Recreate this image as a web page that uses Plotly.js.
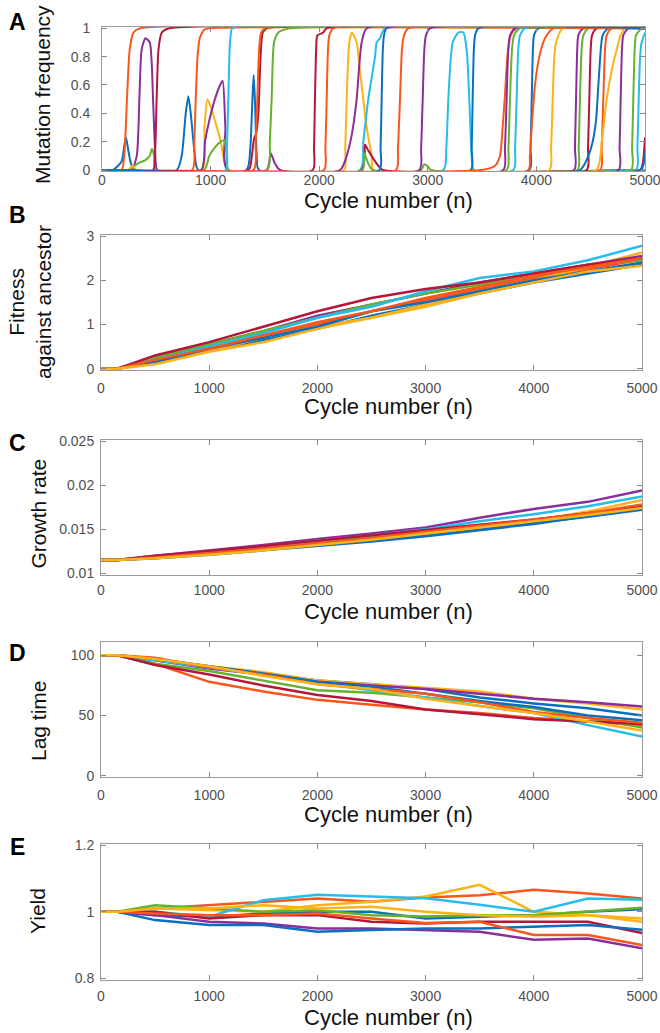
<!DOCTYPE html>
<html><head><meta charset="utf-8">
<script src="https://cdn.plot.ly/plotly-3.0.1.min.js"></script>
<style>html,body{margin:0;padding:0;background:#fff;}#chart{width:660px;height:1033px;}</style>
</head><body><div id="chart"></div>
<script>
// ---------------- DATA ----------------
// Panel A: mutation frequency trajectories (cycle, frequency)
const freqColor = [0,3,4,2,6,0,1,2,3,4,0,6,3,4,6,1,2,5,3,6,4,1,4,3,5,0,1,3,4,5,0,1,2,3,4,6,0,1,2,3,4,5,6,0,1,5,1,0];
const freqX = [
 [0,100,180,205,221,240,265,300,5000],
 [0,270,320,344,365,400,440,458,470,485,495,510,5000],
 [0,250,300,340,400,440,460,480,495,5000],
 [0,240,280,320,5000],
 [0,470,490,503,520,550,620,5000],
 [0,688,734,771,795,817,856,887,5000],
 [0,830,850,863,880,900,940,990,5000],
 [0,918,943,970,1000,1040,1093,1130,1160,5000],
 [0,913,948,988,1040,1087,1111,1136,1157,5000],
 [0,940,988,1040,1093,1123,1150,1167,5000],
 [0,1330,1365,1385,1397,1410,1425,1445,5000],
 [0,1350,1380,1400,1420,1440,1460,1480,1520,5000],
 [0,1516,1553,1590,1639,5000],
 [0,1522,1545,1562,1584,1624,1731,5000],
 [0,1940,1952,1961,1972,1983,2038,2068,5000],
 [0,2044,2057,2069,2081,2093,2130,5000],
 [0,2228,2240,2253,2277,2302,2345,2376,2391,2437,2483,2500,5000],
 [0,2376,2406,2452,2514,2529,2560,2606,5000],
 [0,2192,2253,2300,2345,2370,2391,2440,5000],
 [0,2391,2422,2443,2498,2544,2584,5000],
 [0,2398,2413,2450,2492,5000],
 [0,2707,2725,2744,2762,2781,2820,5000],
 [0,2940,2965,2995,3030,5000],
 [0,2922,2938,2953,2968,2983,3020,5000],
 [0,3143,3170,3189,3229,3281,3327,3358,3382,3404,3425,5000],
 [0,3395,3404,3413,3424,3435,3465,5000],
 [0,3496,3619,3665,3689,3708,3733,3763,3818,5000],
 [0,3695,3710,3726,3741,3757,3803,5000],
 [0,3726,3742,3757,3775,3794,3849,5000],
 [0,3787,3803,3818,3833,3849,3895,5000],
 [0,3935,3946,3957,3968,3978,4018,5000],
 [0,3926,3940,3957,3987,4027,4079,4156,5000],
 [0,4119,4135,4150,4165,4181,4242,5000],
 [0,4346,4355,4365,4376,4386,4432,5000],
 [0,4377,4389,4401,4416,4432,4478,5000],
 [0,4463,4475,4487,4500,4512,4555,5000],
 [0,4401,4478,4518,4549,4579,4610,4662,5000],
 [0,4586,4601,4616,4632,4647,4693,5000],
 [0,4549,4601,4647,4693,4739,4776,4816,5000],
 [0,4757,4766,4776,4788,4800,4846,5000],
 [0,4871,4881,4892,4905,4917,4969,5000],
 [0,4917,4930,4942,4955,4969,5000],
 [0,4954,4980,5000],
 [0,4960,5000],
 [0,180,205,230,255,290,350,5000],
 [0,1139,1150,1163,1175,1185,1200,5000],
 [0,1395,1415,1430,1447,1465,1500,5000],
 [0,2554,2565,2575,2586,2597,2620,5000]
];
const freqY = [
 [0,0,0.06,0.17,0.23,0.15,0.05,0,0],
 [0,0,0.1,0.5,0.85,0.93,0.9,0.75,0.5,0.2,0.05,0,0],
 [0,0,0.03,0.05,0.07,0.1,0.15,0.1,0,0],
 [0,0,0.03,0,0],
 [0,0,0.15,0.5,0.85,0.97,1,1],
 [0,0,0.1,0.4,0.52,0.4,0.1,0,0],
 [0,0,0.2,0.5,0.8,0.93,0.99,1,1],
 [0,0,0.3,0.5,0.45,0.35,0.2,0.05,0,0],
 [0,0,0.2,0.35,0.5,0.6,0.63,0.3,0,0],
 [0,0,0.1,0.16,0.2,0.21,0.1,0,0],
 [0,0,0.15,0.5,0.67,0.45,0.1,0,0],
 [0,0,0.1,0.22,0.26,0.4,0.8,0.97,1,1],
 [0,0,0.12,0.05,0,0],
 [0,0,0.2,0.5,0.9,0.97,1,1],
 [0,0,0.15,0.5,0.85,0.95,0.97,1,1],
 [0,0,0.15,0.5,0.85,0.95,1,1],
 [0,0,0.15,0.5,0.9,0.97,0.9,0.7,0.6,0.3,0.1,0,0],
 [0,0,0.2,0.5,0.8,0.9,0.93,1,1],
 [0,0,0.1,0.25,0.5,0.75,0.9,1,1],
 [0,0,0.18,0.15,0.08,0.03,0,0],
 [0,0,0.12,0.05,0,0],
 [0,0,0.15,0.5,0.85,0.95,1,1],
 [0,0,0.04,0.03,0,0],
 [0,0,0.15,0.5,0.85,0.95,1,1],
 [0,0,0.15,0.5,0.9,0.97,0.97,0.85,0.5,0.1,0,0],
 [0,0,0.15,0.5,0.85,0.95,1,1],
 [0,0,0.03,0.1,0.3,0.5,0.8,0.95,1,1],
 [0,0,0.15,0.5,0.85,0.95,1,1],
 [0,0,0.15,0.5,0.85,0.95,1,1],
 [0,0,0.15,0.5,0.85,0.95,1,1],
 [0,0,0.15,0.5,0.85,0.95,1,1],
 [0,0,0.1,0.3,0.6,0.8,0.93,1,1],
 [0,0,0.15,0.5,0.8,0.9,1,1],
 [0,0,0.15,0.5,0.85,0.95,1,1],
 [0,0,0.15,0.5,0.85,0.95,1,1],
 [0,0,0.15,0.5,0.85,0.95,1,1],
 [0,0,0.1,0.2,0.35,0.7,0.95,1,1],
 [0,0,0.15,0.5,0.85,0.95,1,1],
 [0,0,0.2,0.5,0.7,0.85,0.95,1,1],
 [0,0,0.15,0.5,0.85,0.95,1,1],
 [0,0,0.15,0.5,0.85,0.95,1,1],
 [0,0,0.15,0.5,0.8,0.9,0.97],
 [0,0,0.05,0.23],
 [0,0,0.12],
 [0,0,0.1,0.5,0.85,0.97,1,1],
 [0,0,0.15,0.5,0.85,0.95,1,1],
 [0,0,0.2,0.5,0.85,0.97,1,1],
 [0,0,0.15,0.5,0.85,0.95,1,1]
];

// Panels B-E: ten replicate lines sampled at these cycles
const cycles = [0,150,500,1000,1500,2000,2500,3000,3500,4000,4500,5000];
const lineColor = [0,1,2,3,4,5,6,0,1,2];
const fitness = [
 [0,0,0.15,0.40,0.65,0.90,1.20,1.45,1.70,1.95,2.15,2.35],
 [0,0,0.20,0.50,0.75,1.00,1.30,1.55,1.80,2.05,2.25,2.47],
 [0,0,0.12,0.40,0.70,0.95,1.15,1.45,1.75,2.00,2.30,2.63],
 [0,0,0.25,0.55,0.85,1.20,1.45,1.70,1.95,2.15,2.35,2.55],
 [0,0,0.25,0.55,0.85,1.15,1.45,1.70,1.90,2.10,2.35,2.45],
 [0,0,0.20,0.50,0.80,1.15,1.40,1.75,2.05,2.20,2.45,2.78],
 [0,0,0.30,0.60,0.95,1.30,1.60,1.80,1.95,2.15,2.35,2.50],
 [0,0,0.15,0.45,0.70,0.95,1.30,1.50,1.75,2.00,2.20,2.40],
 [0,0,0.20,0.45,0.75,1.05,1.30,1.60,1.85,2.10,2.30,2.50],
 [0,0,0.10,0.38,0.60,0.90,1.15,1.40,1.70,1.95,2.20,2.33]
];
const growth = [
 [0.0115,0.0115,0.0118,0.0122,0.0127,0.0132,0.0137,0.0143,0.0150,0.0157,0.0164,0.0172],
 [0.0115,0.0115,0.0119,0.0124,0.0129,0.0135,0.0140,0.0147,0.0153,0.0160,0.0167,0.0176],
 [0.0115,0.0115,0.0117,0.0122,0.0127,0.0132,0.0138,0.0145,0.0152,0.0160,0.0170,0.0183],
 [0.0115,0.0115,0.0120,0.0126,0.0132,0.0139,0.0145,0.0152,0.0163,0.0173,0.0181,0.0194],
 [0.0115,0.0115,0.0119,0.0124,0.0129,0.0135,0.0141,0.0148,0.0154,0.0160,0.0167,0.0175],
 [0.0115,0.0115,0.0119,0.0124,0.0130,0.0137,0.0143,0.0150,0.0159,0.0167,0.0176,0.0187],
 [0.0115,0.0115,0.0120,0.0125,0.0131,0.0137,0.0143,0.0149,0.0155,0.0161,0.0168,0.0176],
 [0.0115,0.0115,0.0117,0.0121,0.0126,0.0131,0.0136,0.0142,0.0149,0.0156,0.0165,0.0173],
 [0.0115,0.0115,0.0118,0.0123,0.0128,0.0134,0.0140,0.0147,0.0154,0.0161,0.0168,0.0178],
 [0.0115,0.0115,0.0117,0.0121,0.0126,0.0132,0.0138,0.0145,0.0152,0.0159,0.0166,0.0174]
];
const lagTime = [
 [100,100,97,90,85,79,76,72,65,60,56,50],
 [100,100,93,78,70,63,59,55,52,48,45,42],
 [100,100,97,91,86,79,76,73,70,64,60,55],
 [100,100,96,89,84,78,75,72,68,64,61,57.5],
 [100,100,93,87,79,71,69,65,61,56,48,40],
 [100,100,96,90,84,77,71,65,58,52,42,32.5],
 [100,100,92,84,75,67,62,55,51,47,45,43],
 [100,100,97,91,85,78,74,68,62,57,50,46],
 [100,100,98,90,84,76,72,68,61,53,48,44],
 [100,100,97,91,83,76,72,64,58,52,45,37.5]
];
const yieldVals = [
 [1,1,0.99,0.985,0.995,1.0,1.0,0.98,0.985,0.99,1.0,1.008],
 [1,1,1.01,1.02,1.03,1.04,1.03,1.043,1.05,1.066,1.055,1.04],
 [1,1,1.01,1.005,1.0,1.02,1.03,1.046,1.081,1.0,0.99,0.98],
 [1,1,0.99,0.97,0.965,0.95,0.95,0.946,0.94,0.916,0.92,0.89],
 [1,1,1.02,1.01,1.0,1.005,0.99,0.986,0.99,0.99,1.0,1.012],
 [1,1,1.0,0.985,1.035,1.051,1.045,1.041,1.021,1.0,1.04,1.036],
 [1,1,1.0,0.98,0.99,0.99,0.97,0.965,0.97,0.97,0.97,0.936],
 [1,1,0.975,0.96,0.96,0.94,0.945,0.95,0.95,0.955,0.96,0.946],
 [1,1,0.995,0.99,0.99,0.995,0.98,0.966,0.97,0.93,0.93,0.9],
 [1,1,1.01,1.01,1.02,1.01,1.015,1.0,0.99,0.985,0.99,0.97]
];
const yTitles = ["Mutation frequency","Fitness<br>against ancestor","Growth rate","Lag time","Yield"];
const panelLetters = ["A","B","C","D","E"];
const xTitle = "Cycle number (n)";
const xTicks = [0,1000,2000,3000,4000,5000];

// ---------------- STYLE / LAYOUT ----------------
const palette = ['#0B6FC0','#FA561C','#FDB217','#8C2D9C','#66B22E','#26BDEC','#B3173A'];
const W = 660, H = 1033;
const FONT = 'Liberation Sans, Arial, Helvetica, sans-serif';
const frames = [
 {l:102,r:645,t:28.3,b:170,lo:0,hi:1,tv:[0,0.2,0.4,0.6,0.8,1]},
 {l:101,r:642,t:236,b:368.7,lo:0,hi:3,tv:[0,1,2,3]},
 {l:101,r:642,t:441,b:573.3,lo:0.01,hi:0.025,tv:[0.01,0.015,0.02,0.025]},
 {l:101,r:642,t:643.3,b:775.7,lo:0,hi:110,tv:[0,50,100]},
 {l:101,r:642,t:845.3,b:978.3,lo:0.8,hi:1.2,tv:[0.8,1,1.2]}
];
const titlePos = [
 {xt:201, yx:43, yy:95, ly:21.7, sx:-4},
 {xt:406, yx:30, yy:302, ly:215, sx:5},
 {xt:611, yx:38, yy:513.5, ly:443.3, sx:3},
 {xt:814.5, yx:38, yy:721, ly:653.3, sx:5},
 {xt:1017, yx:37, yy:911, ly:846.7, sx:4}
];

const traces = [];
for (let i = 0; i < freqX.length; i++) {
  traces.push({x: freqX[i], y: freqY[i], type:'scatter', mode:'lines', xaxis:'x', yaxis:'y',
    line:{color: palette[freqColor[i]], width:2, shape:'spline', smoothing:0.6}, hoverinfo:'skip'});
}
const panelData = [fitness, growth, lagTime, yieldVals];
panelData.forEach((arr, p) => {
  const ax = p + 2;
  arr.forEach((vals, k) => {
    traces.push({x: cycles, y: vals, type:'scatter', mode:'lines', xaxis:'x'+ax, yaxis:'y'+ax,
      line:{color: palette[lineColor[k]], width:2.5}, hoverinfo:'skip'});
  });
});

const layout = {width:W, height:H, margin:{l:0,r:0,t:0,b:0}, showlegend:false,
  paper_bgcolor:'#fff', plot_bgcolor:'#fff', font:{family:FONT}, annotations:[]};
const pad = 1.2;
frames.forEach((f, i) => {
  const n = i === 0 ? '' : String(i+1);
  const u = (f.hi - f.lo) / (f.b - f.t);
  const tp = titlePos[i];
  layout['xaxis'+n] = {domain:[f.l/W, f.r/W], range:[0,5000], anchor:'y'+n,
    tickvals:xTicks, tickformat:'d', ticks:'inside', ticklen:5, tickcolor:'#8a8a8a',
    showline:true, linecolor:'#9a9a9a', linewidth:1, mirror:'ticks',
    showgrid:false, zeroline:false, tickfont:{size:14, color:'#505050', family:FONT},
    ticklabelstandoff: tp.sx, ticklabeloverflow:'allow'};
  layout['yaxis'+n] = {domain:[1-(f.b+pad)/H, 1-(f.t-pad)/H], range:[f.lo - pad*u, f.hi + pad*u],
    anchor:'x'+n, tickvals:f.tv, ticks:'inside', ticklen:5, tickcolor:'#8a8a8a',
    showline:true, linecolor:'#9a9a9a', linewidth:1, mirror:'ticks',
    showgrid:false, zeroline:false, tickfont:{size:14, color:'#505050', family:FONT},
    ticklabelstandoff: i === 0 ? 8 : 3, ticklabeloverflow:'allow'};
  layout.annotations.push({text:xTitle, xref:'paper', yref:'paper', x:388/W, y:1-tp.xt/H,
    xanchor:'center', yanchor:'middle', showarrow:false, font:{size:22, color:'#111', family:FONT}});
  layout.annotations.push({text:yTitles[i], xref:'paper', yref:'paper', x:tp.yx/W, y:1-tp.yy/H,
    xanchor:'center', yanchor:'middle', textangle:-90, showarrow:false,
    font:{size:21, color:'#111', family:FONT}});
  layout.annotations.push({text:'<b>'+panelLetters[i]+'</b>', xref:'paper', yref:'paper', x:17/W, y:1-tp.ly/H,
    xanchor:'center', yanchor:'middle', showarrow:false, font:{size:23, color:'#000', family:FONT}});
});

Plotly.newPlot('chart', traces, layout, {staticPlot:true, displayModeBar:false});
</script></body></html>
